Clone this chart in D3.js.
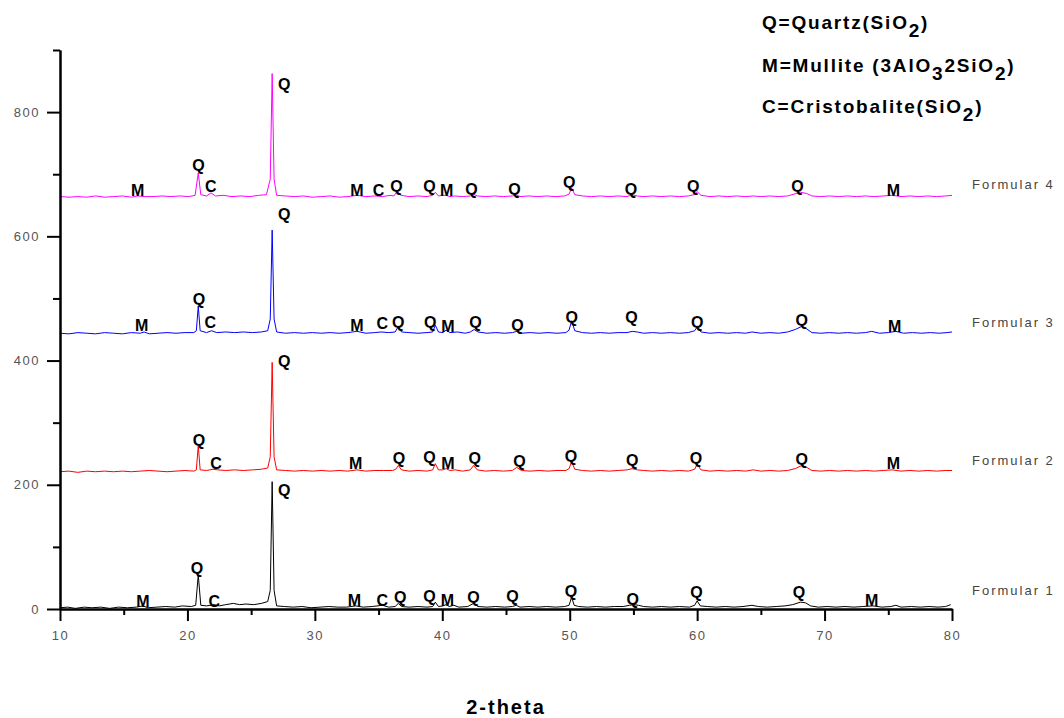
<!DOCTYPE html>
<html>
<head>
<meta charset="utf-8">
<script src="https://cdn.jsdelivr.net/npm/d3@7"></script>
<style>
  body { margin: 0; background: #fff; }
  svg { display: block; font-family: "Liberation Sans", Arial, sans-serif; }
</style>
</head>
<body>
<svg id="chart"></svg>
<script>
// ---- data ----
const seriesNames = ['Formular 1', 'Formular 2', 'Formular 3', 'Formular 4'];
const seriesColors = ['#000000', '#ff0000', '#0000ff', '#ff00ff'];
const seriesOffsets = [0, 220, 442, 662];
const nameLevels = [22, 232, 454, 676]; // where the name sits, in counts

// [2-theta, counts] for each pattern (before the vertical offset)
const formular1 = [[10,2],[10.6,3],[11.2,1],[11.9,3],[12.5,2],[13.2,3],[13.9,1],[14.6,3],[15.3,2],[16,3],[16.5,5],[16.9,2],[17.6,3],[18.3,4],[19,3],[19.6,5],[20.3,4],[20.65,6],[20.85,55],[21.05,6],[21.5,5],[22.1,7],[22.5,5],[23,7],[23.6,9],[24.1,7],[24.6,8],[25.2,7],[25.8,9],[26.3,12],[26.5,30],[26.65,205],[26.8,30],[27,5],[27.6,4],[28.3,3],[29,4],[29.7,2],[30.4,3],[31.1,4],[31.8,3],[32.5,3],[33.2,5],[33.8,3],[34.5,4],[35.3,6],[35.8,3],[36.3,4],[36.55,9],[36.8,4],[37.4,3],[38.1,4],[38.8,3],[39.25,4],[39.45,11],[39.7,4],[40.05,5],[40.3,7],[40.55,4],[40.9,6],[41.3,3],[42,4],[42.45,9],[42.8,4],[43.5,3],[44.2,4],[44.9,3],[45.5,4],[45.8,6],[46.1,3],[46.8,4],[47.5,3],[48.2,4],[48.9,3],[49.6,4],[49.95,6],[50.15,19],[50.35,6],[50.7,4],[51.4,3],[52.1,4],[52.8,3],[53.5,4],[54.2,4],[54.7,6],[55,7],[55.4,6],[55.8,4],[56.5,3],[57.2,4],[57.9,3],[58.6,4],[59.4,3],[59.8,6],[60,13],[60.25,5],[60.8,4],[61.5,3],[62.2,4],[62.9,3],[63.6,4],[64.3,6],[64.8,4],[65.5,3],[66.2,4],[66.9,5],[67.5,7],[68.1,11],[68.5,10],[68.9,5],[69.5,3],[70.2,4],[70.9,3],[71.6,4],[72.3,3],[73,4],[73.8,5],[74.5,3],[75.2,4],[75.6,6],[76,3],[76.8,4],[77.5,3],[78.2,4],[78.9,3],[79.5,4],[79.9,7]];
const formular2 = [[10,1],[10.7,2],[11.4,0],[12.1,2],[12.8,1],[13.5,2],[14.2,1],[14.9,2],[15.6,1],[16.3,2],[17,3],[17.7,2],[18.4,1],[19.1,2],[19.8,3],[20.5,2],[20.7,4],[20.85,43],[21,4],[21.5,3],[22,5],[22.4,4],[23,3],[23.7,4],[24.4,3],[25.1,4],[25.8,5],[26.3,7],[26.5,25],[26.65,177],[26.8,25],[27,4],[27.7,3],[28.4,2],[29.1,3],[29.8,2],[30.5,3],[31.2,2],[31.9,3],[32.6,2],[33.3,4],[34,2],[34.7,3],[35.4,3],[36.1,3],[36.35,5],[36.55,11],[36.8,4],[37.4,2],[38.1,3],[38.8,2],[39.25,4],[39.45,14],[39.7,4],[40.05,4],[40.3,6],[40.6,3],[41,4],[41.6,2],[42.2,4],[42.45,11],[42.75,4],[43.4,2],[44.1,3],[44.8,2],[45.5,3],[45.85,8],[46.2,3],[46.9,2],[47.6,3],[48.3,2],[49,3],[49.7,3],[49.95,6],[50.15,17],[50.4,5],[51,3],[51.7,2],[52.4,3],[53.1,2],[53.8,3],[54.5,4],[54.9,6],[55.3,4],[55.8,3],[56.5,2],[57.2,3],[57.9,2],[58.6,3],[59.3,2],[59.8,5],[60,13],[60.3,4],[61,2],[61.7,3],[62.4,2],[63.1,3],[63.8,2],[64.4,4],[65,2],[65.7,3],[66.4,2],[67.1,3],[67.7,6],[68.2,11],[68.6,8],[69,3],[69.7,2],[70.4,3],[71.1,2],[71.8,3],[72.5,2],[73.2,3],[73.9,2],[74.6,3],[75.3,4],[76,2],[76.7,3],[77.4,2],[78.1,3],[78.8,2],[79.5,3],[80,3]];
const formular3 = [[10,2],[10.7,1],[11.4,3],[12.1,2],[12.8,1],[13.5,3],[14.2,2],[14.9,1],[15.6,3],[16.3,2],[16.6,4],[17,1],[17.7,2],[18.4,3],[19.1,2],[19.8,3],[20.5,3],[20.7,6],[20.85,46],[21,6],[21.5,3],[21.9,6],[22.3,3],[23,4],[23.7,3],[24.4,4],[25.1,3],[25.8,4],[26.3,6],[26.5,25],[26.65,168],[26.8,25],[27,4],[27.7,2],[28.4,3],[29.1,2],[29.8,3],[30.5,2],[31.2,3],[31.9,2],[32.6,3],[33.3,5],[34,2],[34.7,3],[35.2,4],[35.8,3],[36.3,4],[36.55,13],[36.8,4],[37.4,3],[38.1,2],[38.8,3],[39.25,4],[39.45,15],[39.7,4],[40.05,3],[40.3,7],[40.6,3],[41.2,4],[41.8,2],[42.2,4],[42.5,8],[42.8,4],[43.5,2],[44.2,3],[44.9,2],[45.5,3],[45.85,5],[46.2,2],[46.9,3],[47.6,2],[48.3,3],[49,2],[49.7,3],[49.95,7],[50.15,22],[50.4,6],[51,3],[51.7,2],[52.4,3],[53.1,2],[53.8,3],[54.5,3],[54.9,5],[55.3,4],[55.8,2],[56.5,3],[57.2,2],[57.9,3],[58.6,2],[59.3,3],[59.8,6],[60,12],[60.3,4],[61,2],[61.7,3],[62.4,2],[63.1,3],[63.8,2],[64.3,4],[65,2],[65.7,3],[66.4,2],[67.1,4],[67.7,8],[68.2,13],[68.6,9],[69,3],[69.7,2],[70.4,3],[71.1,2],[71.8,3],[72.5,2],[73.2,3],[73.7,5],[74.3,2],[75,3],[75.6,5],[76.2,2],[76.9,3],[77.6,2],[78.3,3],[79,2],[79.6,3],[80,4]];
const formular4 = [[10,2],[10.7,1],[11.4,2],[12.1,1],[12.8,3],[13.5,1],[14.2,2],[14.9,3],[15.6,1],[16.1,3],[16.6,2],[17.3,2],[18,3],[18.7,2],[19.4,3],[20.1,2],[20.6,4],[20.85,40],[21.05,5],[21.5,3],[21.85,8],[22.2,3],[22.8,4],[23.5,2],[24.2,3],[24.9,2],[25.6,4],[26.2,5],[26.5,30],[26.65,200],[26.8,30],[27,4],[27.7,3],[28.4,2],[29.1,3],[29.8,1],[30.5,2],[31.2,3],[31.9,1],[32.6,2],[33.3,4],[34,2],[34.7,3],[35.3,2],[35.9,4],[36.2,3],[36.45,10],[36.75,4],[37.4,2],[38.1,3],[38.8,2],[39.25,4],[39.45,9],[39.7,3],[40.05,4],[40.3,4],[40.6,2],[41,3],[41.6,2],[42.2,3],[42.45,6],[42.75,3],[43.4,2],[44.1,3],[44.8,2],[45.5,3],[45.8,5],[46.1,2],[46.8,3],[47.5,2],[48.2,3],[48.9,2],[49.6,3],[49.95,6],[50.15,16],[50.4,5],[51,3],[51.7,2],[52.4,3],[53.1,2],[53.8,3],[54.5,2],[54.9,5],[55.3,3],[55.8,2],[56.5,3],[57.2,2],[57.9,3],[58.6,2],[59.3,3],[59.75,5],[60,10],[60.3,4],[61,2],[61.7,3],[62.4,2],[63.1,3],[63.8,2],[64.4,3],[65,2],[65.7,3],[66.4,2],[67.1,3],[67.6,6],[68.1,9],[68.6,7],[69,3],[69.7,2],[70.4,3],[71.1,2],[71.8,3],[72.5,2],[73.2,3],[73.9,2],[74.6,3],[75.3,4],[76,2],[76.7,3],[77.4,2],[78.1,3],[78.8,2],[79.5,3],[80,4]];

// phase marks: [2-theta, counts of the letter baseline, letter]
const marks1 = [[16.5,3,'M'],[20.75,57,'Q'],[22.1,4,'C'],[27.6,182,'Q'],[33.1,5,'M'],[35.3,5,'C'],[36.7,10,'Q'],[39.0,12,'Q'],[40.4,5,'M'],[42.45,10,'Q'],[45.5,12,'Q'],[50.1,19,'Q'],[54.95,7,'Q'],[59.95,17,'Q'],[68.0,17,'Q'],[73.7,5,'M']];
const marks2 = [[20.9,42,'Q'],[22.25,5,'C'],[27.6,170,'Q'],[33.2,5,'M'],[36.6,13,'Q'],[39.0,15,'Q'],[40.45,6,'M'],[42.55,13,'Q'],[46.05,9,'Q'],[50.1,16,'Q'],[54.9,11,'Q'],[59.9,14,'Q'],[68.2,12,'Q'],[75.4,5,'M']];
const marks3 = [[16.4,5,'M'],[20.9,47,'Q'],[21.8,11,'C'],[27.6,185,'Q'],[33.3,5,'M'],[35.3,9,'C'],[36.55,10,'Q'],[39.05,11,'Q'],[40.45,4,'M'],[42.6,11,'Q'],[45.9,6,'Q'],[50.15,19,'Q'],[54.85,19,'Q'],[60.0,11,'Q'],[68.2,14,'Q'],[75.5,4,'M']];
const marks4 = [[16.1,3,'M'],[20.86,43,'Q'],[21.83,9,'C'],[27.6,174,'Q'],[33.3,3,'M'],[35.0,3,'C'],[36.4,10,'Q'],[39.0,10,'Q'],[40.35,3,'M'],[42.3,5,'Q'],[45.66,4,'Q'],[49.97,16,'Q'],[54.8,4,'Q'],[59.7,10,'Q'],[67.87,9,'Q'],[75.4,3,'M']];

const xTicks = [10, 20, 30, 40, 50, 60, 70, 80];
const xMinorTicks = [15, 25, 35, 45, 55, 65, 75];
const yTicks = [0, 200, 400, 600, 800];
const yMinorTicks = [100, 300, 500, 700, 900];

// legend lines: [text, isSubscript]
const legendLines = [
  [['Q=Quartz(SiO', false], ['2', true], [')', false]],
  [['M=Mullite (3AlO', false], ['3', true], ['2SiO', false], ['2', true], [')', false]],
  [['C=Cristobalite(SiO', false], ['2', true], [')', false]]
];
const xTitle = '2-theta';

const margin = { top: 50, right: 112, bottom: 109, left: 60 };
const W = 1064, H = 718;

class XrdChart {
  constructor() {
    this.width = W - margin.left - margin.right;
    this.height = H - margin.top - margin.bottom;
    this.patterns = [formular1, formular2, formular3, formular4];
    this.marks = [marks1, marks2, marks3, marks4];
    this.init();
  }

  init() {
    this.svg = d3.select('#chart').attr('width', W).attr('height', H);
    this.x = d3.scaleLinear().domain([10, 80]).range([0, this.width]);
    this.y = d3.scaleLinear().domain([0, 900]).range([this.height, 0]);
    this.g = this.svg.append('g')
      .attr('transform', 'translate(' + margin.left + ',' + margin.top + ')');

    this.renderPatterns();
    this.renderMarks();
    this.renderAxis();
    this.renderNames();
    this.renderLegend();
  }

  renderPatterns() {
    const line = (off) => d3.line()
      .x(d => this.x(d[0]))
      .y(d => this.y(d[1] + off));
    this.g.append('g').selectAll('path')
      .data(this.patterns)
      .enter()
      .append('path')
      .attr('fill', 'none')
      .attr('stroke', (d, i) => seriesColors[i])
      .attr('stroke-width', 1)
      .attr('stroke-linejoin', 'round')
      .attr('d', (d, i) => line(seriesOffsets[i])(d));
  }

  renderMarks() {
    this.marks.forEach((list, i) => {
      this.g.append('g')
        .selectAll('text')
        .data(list)
        .enter()
        .append('text')
        .attr('x', d => this.x(d[0]))
        .attr('y', d => this.y(d[1] + seriesOffsets[i]))
        .attr('text-anchor', 'middle')
        .attr('font-size', '16px')
        .attr('font-weight', 700)
        .attr('fill', '#000')
        .text(d => d[2]);
    });
  }

  renderAxis() {
    const styleAxis = (sel) => {
      sel.selectAll('.domain').attr('stroke', '#000').attr('stroke-width', 2);
      sel.selectAll('.tick line').attr('stroke', '#000').attr('stroke-width', 2);
      sel.selectAll('.tick text')
        .attr('fill', '#555')
        .attr('font-size', '13px')
        .attr('letter-spacing', '1.5px')
        .attr('font-family', '"Liberation Sans", Arial, sans-serif');
    };

    // minor ticks first, majors on top
    this.g.append('g')
      .attr('transform', 'translate(0,' + this.height + ')')
      .call(d3.axisBottom(this.x).tickValues(xMinorTicks).tickSize(6).tickSizeOuter(0).tickFormat(''))
      .call(styleAxis);
    this.g.append('g')
      .call(d3.axisLeft(this.y).tickValues(yMinorTicks).tickSize(7).tickSizeOuter(0).tickFormat(''))
      .call(styleAxis);

    this.g.append('g')
      .attr('class', 'axis axis-x')
      .attr('transform', 'translate(0,' + this.height + ')')
      .call(d3.axisBottom(this.x).tickValues(xTicks).tickSize(12).tickSizeOuter(0).tickPadding(10))
      .call(styleAxis);
    this.g.append('g')
      .attr('class', 'axis axis-y')
      .call(d3.axisLeft(this.y).tickValues(yTicks).tickSize(13).tickSizeOuter(0).tickPadding(7))
      .call(styleAxis);

    this.svg.append('text')
      .attr('x', 506)
      .attr('y', 714)
      .attr('text-anchor', 'middle')
      .attr('font-size', '20px')
      .attr('font-weight', 700)
      .attr('letter-spacing', '2px')
      .attr('fill', '#000')
      .text(xTitle);
  }

  renderNames() {
    this.svg.append('g')
      .selectAll('text')
      .data(seriesNames)
      .enter()
      .append('text')
      .attr('x', 972)
      .attr('y', (d, i) => margin.top + this.y(nameLevels[i]))
      .attr('font-size', '13px')
      .attr('letter-spacing', '2px')
      .attr('fill', '#444')
      .text(d => d);
  }

  renderLegend() {
    const baselines = [29, 72, 113];
    legendLines.forEach((parts, i) => {
      const t = this.svg.append('text')
        .attr('x', 762)
        .attr('y', baselines[i])
        .attr('font-size', '19px')
        .attr('font-weight', 700)
        .attr('letter-spacing', '1.8px')
        .attr('fill', '#000');
      parts.forEach((p, j) => {
        const prevSub = j > 0 && parts[j - 1][1];
        t.append('tspan')
          .attr('dy', p[1] ? 8 : (prevSub ? -8 : 0))
          .text(p[0]);
      });
    });
  }
}

new XrdChart();
</script>
</body>
</html>
